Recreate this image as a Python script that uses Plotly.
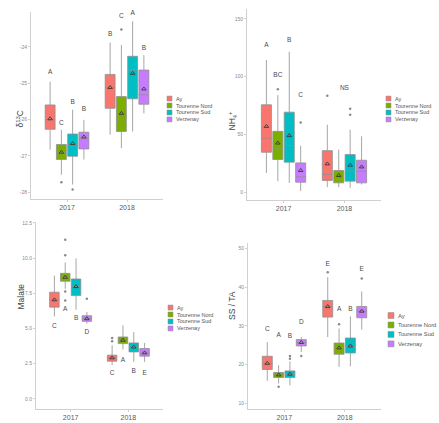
import plotly.graph_objects as go

W, H = 439, 423

sites = ["Ay", "Tourenne Nord", "Tourenne Sud", "Verzenay"]
colors = ["#F8766D", "#7CAE00", "#00BFC4", "#C77CFF"]
years = ["2017", "2018"]

# ---- Panel 1: d13C  (rows = sites, cols = years) ----
d13c_low = [[-26.83, -26.42], [-27.52, -26.79], [-27.79, -26.33], [-27.10, -25.83]]
d13c_q1 = [[-26.27, -25.69], [-27.10, -26.33], [-27.01, -25.43], [-26.81, -25.58]]
d13c_med = [[-26.01, -25.12], [-26.90, -26.01], [-26.69, -24.64], [-26.53, -25.32]]
d13c_q3 = [[-25.60, -24.76], [-26.69, -25.37], [-26.40, -24.26], [-26.35, -24.64]]
d13c_high = [[-24.96, -23.88], [-26.28, -23.95], [-25.73, -23.30], [-26.01, -24.23]]
d13c_mean = [[-25.98, -25.12], [-26.90, -25.83], [-26.66, -24.73], [-26.48, -25.16]]
d13c_out = [[[], []], [[-27.73], [-23.52]], [[-27.93], []], [[], []]]
d13c_let = [["A", "B"], ["C", "C"], ["B", "A"], ["B", "B"]]
d13c_let_y = [[-24.70, -23.65], [-26.10, -23.17], [-25.53, -23.07], [-25.71, -24.03]]

# ---- Panel 2: NH4+ ----
nh4_low = [[16.6, 4.3], [9.5, 4.3], [8.0, 3.7], [0.9, 6.6]]
nh4_q1 = [[34.5, 10.1], [28.2, 8.0], [25.9, 9.5], [8.6, 8.0]]
nh4_med = [[46.8, 15.3], [38.2, 10.9], [40.3, 18.1], [13.2, 18.1]]
nh4_q3 = [[75.6, 35.9], [52.6, 18.7], [69.2, 32.5], [25.3, 27.6]]
nh4_high = [[114.4, 58.4], [84.0, 36.8], [121.6, 54.0], [40.2, 48.3]]
nh4_mean = [[56.9, 24.4], [42.5, 14.4], [48.9, 23.3], [18.7, 21.8]]
nh4_out = [[[], [83.4]], [[89.0], []], [[], [67.0, 72.2]], [[60.3], []]]
nh4_let = [["A", ""], ["BC", ""], ["B", ""], ["C", ""]]
nh4_let_y = [[127.3, 0], [100.9, 0], [131.3, 0], [83.6, 0]]
nh4_ns_text = "NS"
nh4_ns_y = 89.4

# ---- Panel 3: Malate ----
mal_low = [[5.86, 2.40], [7.82, 3.51], [6.33, 2.63], [5.35, 2.63]]
mal_q1 = [[6.52, 2.68], [8.36, 3.93], [7.34, 3.34], [5.51, 3.04]]
mal_med = [[7.04, 2.92], [8.64, 4.17], [7.98, 3.69], [5.70, 3.27]]
mal_q3 = [[7.58, 3.11], [8.92, 4.40], [8.52, 3.98], [5.91, 3.58]]
mal_high = [[8.76, 3.81], [9.70, 5.23], [9.98, 4.75], [6.17, 3.98]]
mal_mean = [[7.04, 2.92], [8.64, 4.17], [7.98, 3.69], [5.70, 3.27]]
mal_out = [[[], [4.10, 4.33]], [[11.3, 10.2, 7.63, 7.0], []], [[], []], [[7.11], []]]
mal_let = [["C", "C"], ["A", "A"], ["B", "B"], ["D", "E"]]
mal_let_y = [[5.16, 1.81], [6.33, 2.75], [5.70, 1.93], [4.75, 1.81]]

# ---- Panel 4: SS / TA ----
ssta_low = [[15.76, 27.1], [15.08, 19.37], [14.6, 19.55], [23.2, 29.0]]
ssta_q1 = [[18.70, 32.27], [16.63, 22.65], [16.63, 22.98], [24.8, 32.1]]
ssta_med = [[20.24, 35.03], [17.30, 24.37], [17.48, 24.7], [25.66, 33.8]]
ssta_q3 = [[22.13, 36.58], [17.92, 25.56], [18.34, 26.85], [26.44, 35.03]]
ssta_high = [[25.8, 42.6], [19.8, 29.3], [20.8, 32.45], [27.1, 38.9]]
ssta_mean = [[20.3, 35.0], [17.3, 24.3], [17.5, 24.8], [25.7, 33.8]]
ssta_out = [[[], [43.9]], [[14.2], [30.4]], [[21.5, 22.2], []], [[22.2], [42.3]]]
ssta_let = [["C", "E"], ["A", "A"], ["B", "B"], ["D", "E"]]
ssta_let_y = [[29.0, 45.8], [27.5, 34.2], [27.4, 34.2], [31.0, 44.5]]

FONT = "Liberation Sans, Arial, sans-serif"
DODGE = 0.1875
BOXW = 0.165


def px(x):
    return x / W


def py(y):
    return 1 - y / H


panels = [
    dict(low=d13c_low, q1=d13c_q1, med=d13c_med, q3=d13c_q3, high=d13c_high, mean=d13c_mean,
         out=d13c_out, let=d13c_let, let_y=d13c_let_y, title="δ<sup>13</sup>C",
         xd=(31, 163), yd=(10, 198), yr=(-28.19, -23.04), tv=[-28, -27, -26, -25, -24],
         tt=["-28", "-27", "-26", "-25", "-24"], title_xy=(13, 107),
         leg_x=167, leg_y=[97, 104, 111, 118], leg_fs=5.5, key=5),
    dict(low=nh4_low, q1=nh4_q1, med=nh4_med, q3=nh4_q3, high=nh4_high, mean=nh4_mean,
         out=nh4_out, let=nh4_let, let_y=nh4_let_y, title="NH<sub>4</sub><sup>+</sup>",
         xd=(247, 381), yd=(7, 199), yr=(-6.9, 158.6), tv=[0, 50, 100, 150],
         tt=["0", "50", "100", "150"], title_xy=(232, 107),
         leg_x=386, leg_y=[97, 104, 111, 118], leg_fs=5.5, key=5),
    dict(low=mal_low, q1=mal_q1, med=mal_med, q3=mal_q3, high=mal_high, mean=mal_mean,
         out=mal_out, let=mal_let, let_y=mal_let_y, title="Malate",
         xd=(36, 163), yd=(221, 409), yr=(-0.72, 12.57), tv=[0, 2.5, 5, 7.5, 10, 12.5],
         tt=["0.0", "2.5", "5.0", "7.5", "10.0", "12.5"], title_xy=(14, 311),
         leg_x=168, leg_y=[307, 314, 321, 328], leg_fs=5.5, key=5),
    dict(low=ssta_low, q1=ssta_q1, med=ssta_med, q3=ssta_q3, high=ssta_high, mean=ssta_mean,
         out=ssta_out, let=ssta_let, let_y=ssta_let_y, title="SS / TA",
         xd=(248, 381), yd=(242, 409), yr=(8.45, 51.5), tv=[10, 20, 30, 40, 50],
         tt=["10", "20", "30", "40", "50"], title_xy=(232, 322),
         leg_x=388, leg_y=[315, 324.5, 334, 343.5], leg_fs=5.8, key=6),
]

fig = go.Figure()
layout = dict(
    width=W, height=H, margin=dict(l=0, r=0, t=0, b=0),
    paper_bgcolor="white", plot_bgcolor="white", showlegend=False,
    font=dict(family=FONT, color="#4D4D4D"), hovermode=False,
)
annotations = []
shapes = []

for k, p in enumerate(panels, start=1):
    xa, ya = f"x{k}", f"y{k}"
    for i, site in enumerate(sites):
        pos = [j + (i - 1.5) * DODGE for j in range(len(years))]
        fig.add_trace(go.Box(
            x=pos, q1=p["q1"][i], median=p["med"][i], q3=p["q3"][i],
            lowerfence=p["low"][i], upperfence=p["high"][i],
            width=BOXW, whiskerwidth=0, fillcolor=colors[i],
            line=dict(color="#8F8F8F", width=0.8), name=site,
            boxpoints=False, xaxis=xa, yaxis=ya, hoverinfo="skip",
        ))
        fig.add_trace(go.Scatter(
            x=pos, y=p["mean"][i], mode="markers", xaxis=xa, yaxis=ya,
            marker=dict(symbol="triangle-up-open", size=4, color="#3A3A3A",
                        line=dict(width=0.9, color="#3A3A3A")),
            hoverinfo="skip",
        ))
        ox, oy = [], []
        for j in range(len(years)):
            for v in p["out"][i][j]:
                ox.append(pos[j])
                oy.append(v)
        if ox:
            fig.add_trace(go.Scatter(
                x=ox, y=oy, mode="markers", xaxis=xa, yaxis=ya,
                marker=dict(size=2.5, color="#8A8A8A"), hoverinfo="skip",
            ))
        lx = [pos[j] for j in range(len(years)) if p["let"][i][j]]
        lyv = [p["let_y"][i][j] for j in range(len(years)) if p["let"][i][j]]
        lt = [p["let"][i][j] for j in range(len(years)) if p["let"][i][j]]
        if lt:
            fig.add_trace(go.Scatter(
                x=lx, y=lyv, text=lt, mode="text", xaxis=xa, yaxis=ya,
                textfont=dict(size=6.5, color="#4A4A4A", family=FONT),
                textposition="middle center", hoverinfo="skip", cliponaxis=False,
            ))
    if k == 2:
        fig.add_trace(go.Scatter(
            x=[1], y=[nh4_ns_y], text=[nh4_ns_text], mode="text", xaxis=xa, yaxis=ya,
            textfont=dict(size=6.5, color="#4A4A4A", family=FONT),
            hoverinfo="skip", cliponaxis=False,
        ))

    sfx = "" if k == 1 else str(k)
    layout[f"xaxis{sfx}"] = dict(
        domain=[px(p["xd"][0]), px(p["xd"][1])], anchor=ya, range=[-0.6, 1.6],
        tickvals=list(range(len(years))), ticktext=years, showgrid=False, zeroline=False,
        showline=True, linecolor="#D0D0D0", linewidth=1, ticks="outside", ticklen=2,
        tickcolor="#D0D0D0", tickfont=dict(size=7, color="#5A5A5A"), fixedrange=True,
    )
    layout[f"yaxis{sfx}"] = dict(
        domain=[py(p["yd"][1]), py(p["yd"][0])], anchor=xa, range=list(p["yr"]),
        tickvals=p["tv"], ticktext=p["tt"], showgrid=False, zeroline=False,
        showline=True, linecolor="#D0D0D0", linewidth=1, ticks="outside", ticklen=2,
        tickcolor="#D0D0D0", tickfont=dict(size=5, color="#8A8A8A"), fixedrange=True,
    )
    annotations.append(dict(
        x=px(p["title_xy"][0]), y=py(p["title_xy"][1]), xref="paper", yref="paper",
        text=p["title"], showarrow=False, textangle=-90,
        font=dict(size=8.5, color="#444444", family=FONT),
    ))
    ks = p["key"]
    for i, site in enumerate(sites):
        yc = p["leg_y"][i]
        x0 = p["leg_x"]
        shapes.append(dict(
            type="rect", xref="paper", yref="paper",
            x0=px(x0), x1=px(x0 + ks), y0=py(yc + ks / 2), y1=py(yc - ks / 2),
            fillcolor=colors[i], line=dict(color="#8F8F8F", width=0.5),
        ))
        annotations.append(dict(
            x=px(x0 + ks + 2), y=py(yc), xref="paper", yref="paper",
            text=site, showarrow=False, xanchor="left", yanchor="middle",
            font=dict(size=p["leg_fs"], color="#555555", family=FONT),
        ))

layout["annotations"] = annotations
layout["shapes"] = shapes
fig.update_layout(**layout)
fig.write_html(
    "out.html",
    config={"displayModeBar": False, "staticPlot": True},
    post_script="document.body.style.margin='0';document.body.style.overflow='hidden';",
)
